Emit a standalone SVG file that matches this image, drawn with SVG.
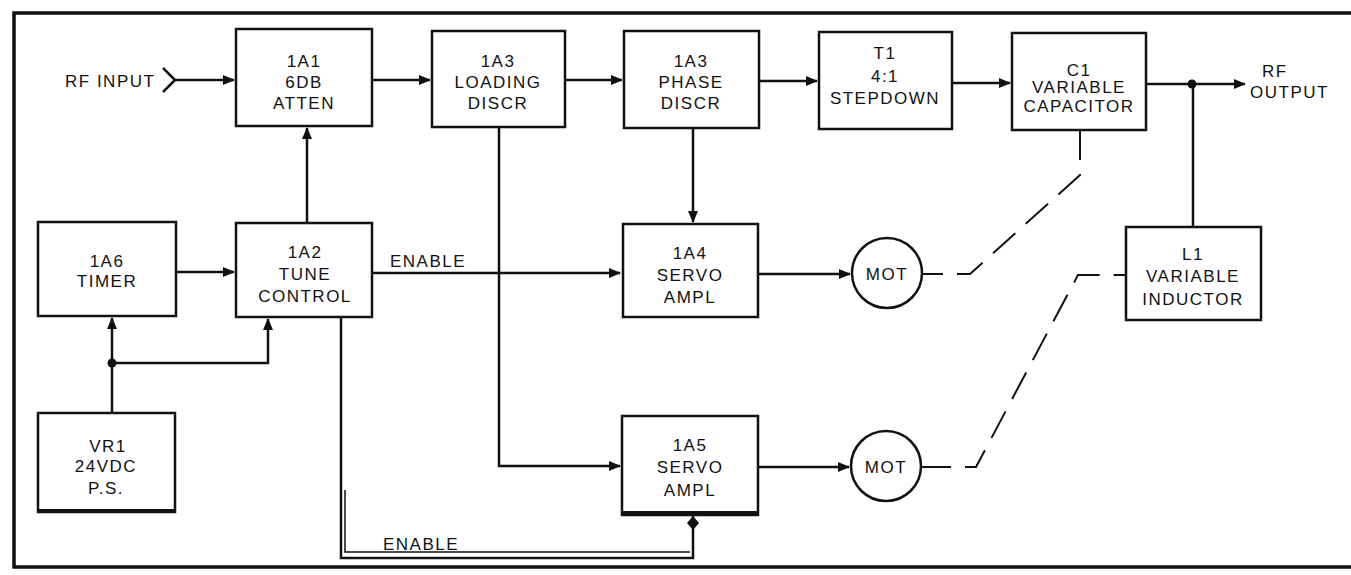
<svg xmlns="http://www.w3.org/2000/svg" width="1351" height="575" viewBox="0 0 1351 575">
<style>
.box{fill:#fff;stroke:#111;stroke-width:2.5}
.t{font-family:"Liberation Sans",Arial,sans-serif;font-size:17px;letter-spacing:1.5px;fill:#111;text-anchor:middle}
.l{font-family:"Liberation Sans",Arial,sans-serif;font-size:17px;letter-spacing:1.5px;fill:#111}
.w{fill:none;stroke:#111;stroke-width:2.5}
.d{fill:none;stroke:#111;stroke-width:2;stroke-dasharray:30 14}
</style>
<defs>
<marker id="a" markerWidth="12" markerHeight="10" refX="11" refY="5" orient="auto" markerUnits="userSpaceOnUse">
<path d="M0,0 L12,5 L0,10 Z" fill="#111"/>
</marker>
</defs>
<rect width="1351" height="575" fill="#fff"/>
<g id="frame">
<path d="M1351 13 H14 V567 H1351" fill="none" stroke="#111" stroke-width="3.5"/>
</g>
<g id="connectors">
<path class="w" d="M175 80 H234" marker-end="url(#a)"/>
<path class="w" d="M163 68 L175 80 L163 92"/>
<path class="w" d="M372 80 H430" marker-end="url(#a)"/>
<path class="w" d="M565 80 H622" marker-end="url(#a)"/>
<path class="w" d="M759 81 H817" marker-end="url(#a)"/>
<path class="w" d="M952 83 H1010" marker-end="url(#a)"/>
<path class="w" d="M1146 84 H1245" marker-end="url(#a)"/>
<circle cx="1192" cy="84" r="4.5" fill="#111"/>
<path class="w" d="M1193 227 V84"/>
<path class="w" d="M307 223 V128" marker-end="url(#a)"/>
<path class="w" d="M176 272 H234" marker-end="url(#a)"/>
<path class="w" d="M112 413 V318" marker-end="url(#a)"/>
<path class="w" d="M112 363 H268 V319" marker-end="url(#a)"/>
<circle cx="112" cy="363" r="4.5" fill="#111"/>
<path class="w" d="M372 273 H620" marker-end="url(#a)"/>
<path class="w" d="M499 127 V466 H620" marker-end="url(#a)"/>
<path class="w" d="M693 128 V222" marker-end="url(#a)"/>
<path class="w" d="M758 274 H850" marker-end="url(#a)"/>
<path class="w" d="M758 467 H849" marker-end="url(#a)"/>
<path class="w" d="M341 317 V558 H693 V516"/>
<path fill="none" stroke="#111" stroke-width="1.5" d="M345 490 V552 H690"/>
<path d="M693 516 L699 523 L693 530 L687 523 Z" fill="#111"/>
<path class="d" d="M1080 130 V175 L970 274 H922"/>
<path class="d" d="M921 467 H976 L1078 275 H1126"/>
</g>
<g id="rf-input"><text class="l" x="65" y="87">RF INPUT</text></g>
<g id="rf-output"><text class="l" x="1262" y="77">RF</text><text class="l" x="1250" y="98">OUTPUT</text></g>
<g id="enable-label-1"><text class="l" x="390" y="267">ENABLE</text></g>
<g id="enable-label-2"><text class="l" x="383" y="550">ENABLE</text></g>
<g id="n1A1"><rect class="box" x="236" y="29" width="136" height="97"/>
<text class="t" x="304" y="67">1A1</text><text class="t" x="304" y="88">6DB</text><text class="t" x="304" y="109">ATTEN</text></g>
<g id="n1A3L"><rect class="box" x="432" y="31" width="133" height="96"/>
<text class="t" x="498" y="67">1A3</text><text class="t" x="498" y="88">LOADING</text><text class="t" x="498" y="109">DISCR</text></g>
<g id="n1A3P"><rect class="box" x="624" y="31" width="135" height="97"/>
<text class="t" x="691" y="67">1A3</text><text class="t" x="691" y="88">PHASE</text><text class="t" x="691" y="109">DISCR</text></g>
<g id="nT1"><rect class="box" x="819" y="32" width="133" height="97"/>
<text class="t" x="885" y="59">T1</text><text class="t" x="885" y="82">4:1</text><text class="t" x="885" y="104">STEPDOWN</text></g>
<g id="nC1"><rect class="box" x="1012" y="33" width="134" height="97"/>
<text class="t" x="1079" y="76">C1</text><text class="t" x="1079" y="93">VARIABLE</text><text class="t" x="1079" y="112">CAPACITOR</text></g>
<g id="n1A6"><rect class="box" x="38" y="222" width="138" height="94"/>
<text class="t" x="107" y="267">1A6</text><text class="t" x="107" y="287">TIMER</text></g>
<g id="n1A2"><rect class="box" x="236" y="223" width="136" height="94"/>
<text class="t" x="305" y="258">1A2</text><text class="t" x="305" y="280">TUNE</text><text class="t" x="305" y="302">CONTROL</text></g>
<g id="nVR1"><rect class="box" x="38" y="413" width="137" height="99"/>
<path d="M38 511 H175" stroke="#111" stroke-width="4"/>
<text class="t" x="108" y="452">VR1</text><text class="t" x="106" y="472">24VDC</text><text class="t" x="106" y="494">P.S.</text></g>
<g id="n1A4"><rect class="box" x="623" y="224" width="135" height="93"/>
<text class="t" x="690" y="259">1A4</text><text class="t" x="690" y="281">SERVO</text><text class="t" x="690" y="303">AMPL</text></g>
<g id="n1A5"><rect class="box" x="622" y="416" width="136" height="99"/>
<path d="M622 513 H758" stroke="#111" stroke-width="4"/>
<text class="t" x="690" y="451">1A5</text><text class="t" x="690" y="473">SERVO</text><text class="t" x="690" y="496">AMPL</text></g>
<g id="nMOT1"><circle class="box" cx="887" cy="273" r="35"/><text class="t" x="887" y="280">MOT</text></g>
<g id="nMOT2"><circle class="box" cx="886" cy="466" r="35"/><text class="t" x="886" y="473">MOT</text></g>
<g id="nL1"><rect class="box" x="1126" y="227" width="135" height="93"/>
<text class="t" x="1193" y="260">L1</text><text class="t" x="1193" y="282">VARIABLE</text><text class="t" x="1193" y="305">INDUCTOR</text></g>
</svg>
